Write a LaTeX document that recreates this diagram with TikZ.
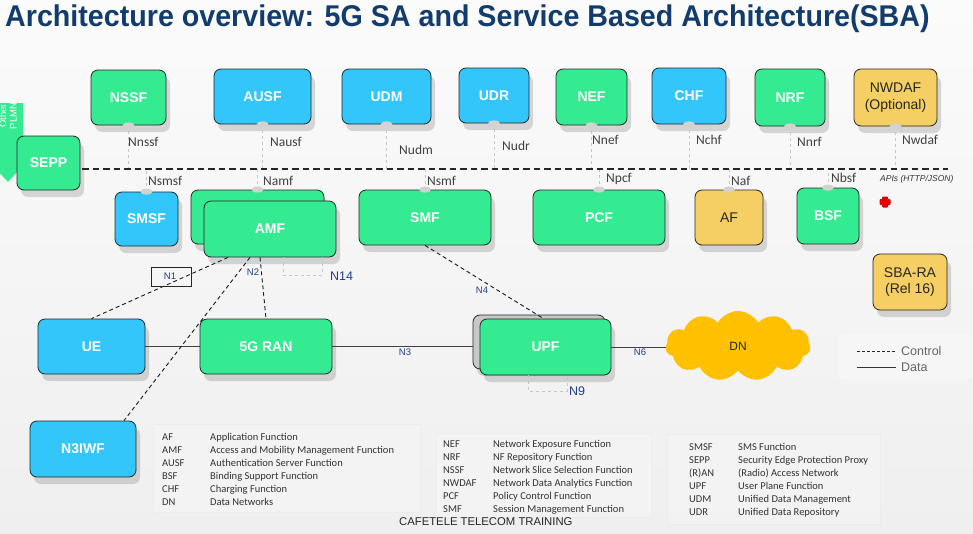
\documentclass[tikz,border=0pt]{standalone}
\usepackage{fontspec}
\setmainfont{Liberation Sans}
\newfontfamily\glossfont{Carlito}
\usetikzlibrary{shapes.symbols,shadows,calc}
\definecolor{nfgreen}{HTML}{35EB91}
\definecolor{nfblue}{HTML}{33C6FA}
\definecolor{nfyellow}{HTML}{F5CF63}
\definecolor{dnorange}{HTML}{FFC000}
\definecolor{titleblue}{HTML}{123C6E}
\definecolor{lblblue}{HTML}{1F3F8F}
\definecolor{upfgray}{HTML}{C8C8C8}
\definecolor{bgtop}{HTML}{FBFBFB}
\definecolor{bgbot}{HTML}{EFEFEF}
\begin{document}
\begin{tikzpicture}[x=1pt,y=-1pt,
  nf/.style={draw=black!85, line width=0.8pt, rounded corners=7pt, inner sep=0pt, align=center,
    drop shadow={shadow xshift=4pt, shadow yshift=-7pt, opacity=0.14, fill=black}},
  gbox/.style={nf, fill=nfgreen, text=white, font=\fontsize{14}{16}\selectfont\bfseries},
  bbox/.style={nf, fill=nfblue, text=white, font=\fontsize{14}{16}\selectfont\bfseries},
  ybox/.style={nf, fill=nfyellow, text=black!85, font=\fontsize{14}{16.5}\selectfont},
  sz/.style 2 args={minimum width=#1pt, minimum height=#2pt},
  stub/.style={fill=gray!35},
  ifline/.style={draw=gray!45, dashed, line width=0.8pt},
  iflbl/.style={font=\glossfont\fontsize{13.5}{15}\selectfont, text=black!75, anchor=west, inner sep=0pt},
  nlbl/.style={font=\fontsize{9.5}{11}\selectfont, text=lblblue, inner sep=0pt},
  nbig/.style={font=\fontsize{12.5}{14}\selectfont, text=lblblue, inner sep=0pt, anchor=west},
  ctrl/.style={draw=black!90, line width=0.9pt, dash pattern=on 4pt off 3pt},
  data/.style={draw=black!75, line width=1pt},
  glbox/.style={draw=gray!15, fill=white, fill opacity=0.2, draw opacity=1},
  gl/.style={font=\glossfont\fontsize{10.5}{13}\selectfont, text=black!80, inner sep=0pt, anchor=base west},
]
\useasboundingbox (0,0) rectangle (973,533);
\shade[top color=bgtop, bottom color=bgbot] (0,0) rectangle (973,533);

% title
\node[anchor=base west, text=titleblue, inner sep=0pt] (title) at (5,26)
  {\fontsize{30}{32}\selectfont\bfseries\scalebox{0.955}[1]{Architecture overview: 5G SA and Service Based Architecture(SBA)}};

% other PLMN arrow
\fill[nfgreen] (-12,103) -- (23,103) -- (23,158) -- (30,158) -- (8,182) -- (-14,158) -- (-12,158) -- cycle;
\node[rotate=90, text=white, align=center, inner sep=0pt, font=\fontsize{9.5}{10.5}\selectfont] (plmn) at (8,116) {Other\\PLMN};

% bus
\coordinate (busL) at (82,169);
\coordinate (busR) at (948,169);

% top row
\node[gbox, sz={75}{55}] (nssf) at (128.5,97.5) {NSSF};
\node[bbox, sz={97}{55}] (ausf) at (262.5,96.5) {AUSF};
\node[bbox, sz={89}{55}] (udm) at (386.5,96.5) {UDM};
\node[bbox, sz={70}{55}] (udr) at (494,95.5) {UDR};
\node[gbox, sz={71}{56}] (nef) at (591.5,97) {NEF};
\node[bbox, sz={74}{56}] (chf) at (689,96) {CHF};
\node[gbox, sz={70}{57}] (nrf) at (790,97.5) {NRF};
\node[ybox, sz={83}{57}] (nwdaf) at (895.5,97.5) {NWDAF\\(Optional)};

\node[gbox, sz={63}{54}] (sepp) at (48.5,163) {SEPP};

% middle row
\node[bbox, sz={63}{54}] (smsf) at (146.5,219) {SMSF};
\node[gbox, sz={133}{54}] (amfb) at (257.5,217) {};
\node[gbox, sz={132}{56}] (amf) at (270,229) {AMF};
\node[gbox, sz={132}{55}] (smf) at (425,217.5) {SMF};
\node[gbox, sz={132}{55}] (pcf) at (599,217.5) {PCF};
\node[ybox, sz={68}{55}] (af) at (729,217.5) {AF};
\node[gbox, sz={62}{56}] (bsf) at (828,216) {BSF};
\node[ybox, sz={74}{56}] (sbara) at (910,282) {SBA-RA\\(Rel 16)};

% interface lines (top)
\foreach \n in {nssf,ausf,udm,udr,nef,chf,nrf,nwdaf}{
  \draw[ifline] (\n.south) -- (\n.south |- busL);
  \fill[stub] (\n.south) ellipse (6pt and 3pt);
}
\foreach \n in {smsf,amfb,smf,pcf,af,bsf}{
  \draw[ifline] (\n.north) -- (\n.north |- busL);
  \fill[stub] (\n.north) ellipse (6pt and 3pt);
}
\draw[black!85, line width=1.3pt, dash pattern=on 6.5pt off 4pt] (busL) -- (busR);

\node[iflbl] (lnssf) at (128,142) {Nnssf};
\node[iflbl] (lausf) at (270,142) {Nausf};
\node[iflbl] (ludm) at (399,150) {Nudm};
\node[iflbl] (ludr) at (502,146) {Nudr};
\node[iflbl] (lnef) at (592,140) {Nnef};
\node[iflbl] (lchf) at (696,140) {Nchf};
\node[iflbl] (lnrf) at (797,142) {Nnrf};
\node[iflbl] (lnwdaf) at (902,140) {Nwdaf};
\node[iflbl] (lsmsf) at (148,181) {Nsmsf};
\node[iflbl] (lamf) at (263,181) {Namf};
\node[iflbl] (lsmf) at (427,181) {Nsmf};
\node[iflbl] (lpcf) at (606,179) {Npcf};
\node[iflbl] (laf) at (731,181) {Naf};
\node[iflbl] (lbsf) at (831,178) {Nbsf};

\node[anchor=west, inner sep=0pt, text=black!80, font=\fontsize{8.5}{10}\selectfont\itshape] (apis) at (880,179) {APIs (HTTP/JSON)};

% red cross
\fill[red!90!black, rounded corners=1pt] (879.5,199) rectangle (890.5,205);
\fill[red!90!black, rounded corners=1pt] (882,196.5) rectangle (888,207.5);

% bottom row
\node[bbox, sz={107}{55}] (ue) at (91.5,346.5) {UE};
\node[gbox, sz={132}{55}] (ran) at (266,346.5) {5G RAN};
\node[nf, fill=upfgray, sz={132}{54}] (upfb) at (539,342) {};
\node[gbox, sz={131}{56}] (upf) at (545.5,347) {UPF};
\node[cloud, cloud puffs=11, cloud puff arc=120, cloud ignores aspect, fill=dnorange, inner sep=0pt,
  minimum width=145pt, minimum height=70pt, text=black!85, font=\fontsize{12}{14}\selectfont] (dn) at (738,346) {DN};
\node[bbox, sz={106}{56}] (n3iwf) at (83,449) {N3IWF};

% data lines
\draw[data] (ue.east) -- (ran.west);
\draw[data] (ran.east) -- (ran.east -| upfb.west);
\draw[data] (upf.east) -- (upf.east -| dn.west);
\node[nlbl] (n3) at (405,352) {N3};
\node[nlbl] (n6) at (640,352) {N6};

% control lines
\draw[ctrl] ($(amf.south)+(-42,0)$) -- (ue.north);
\draw[ctrl] ($(amf.south)+(-20,0)$) -- ($(n3iwf.north)+(41,0)$);
\draw[ctrl] ($(amf.south)+(-10,0)$) -- (ran.north);
\draw[ctrl] (smf.south) -- ($(upf.north)+(-2,0)$);
\node[draw=black!85, line width=0.6pt, minimum width=40pt, minimum height=19pt, inner sep=0pt] (n1box) at (171,276.5) {};
\node[nlbl] (n1) at (170,276.5) {N1};
\node[nlbl] (n2) at (253,272) {N2};
\node[nlbl] (n4) at (482,290) {N4};

% N14 / N9 loops
\coordinate (n14a) at (283,257);
\coordinate (n14b) at (322,257);
\draw[ifline] (n14a) -- ++(0,18) -| (n14b);
\node[nbig] (n14) at (330,276) {N14};
\coordinate (n9a) at (528,375);
\coordinate (n9b) at (567,375);
\draw[ifline] (n9a) -- ++(0,16) -| (n9b);
\node[nbig] (n9) at (569,391) {N9};

% legend
\node[draw=gray!10, fill=white, fill opacity=0.25, rounded corners=3pt, minimum width=135pt, minimum height=47pt] (legend) at (906,356.5) {};
\coordinate (lc1) at (857,351);
\coordinate (lc2) at (896,351);
\coordinate (ld1) at (857,367);
\coordinate (ld2) at (896,367);
\draw[draw=black!85, line width=0.8pt, dash pattern=on 3pt off 2pt] (lc1) -- (lc2);
\draw[draw=black!80, line width=1pt] (ld1) -- (ld2);
\node[anchor=west, inner sep=0pt, text=black!60, font=\fontsize{12.5}{14}\selectfont] (lctrl) at (901,351) {Control};
\node[anchor=west, inner sep=0pt, text=black!60, font=\fontsize{12.5}{14}\selectfont] (ldata) at (901,367) {Data};

% glossary
\draw[glbox] (153,424) rectangle (420,512);
\draw[glbox] (436,433) rectangle (651,517);
\draw[glbox] (667,434) rectangle (880,524);
\foreach \a/\d [count=\i] in {AF/Application Function, AMF/Access and Mobility Management Function, AUSF/Authentication Server Function, BSF/Binding Support Function, CHF/Charging Function, DN/Data Networks}{
  \node[gl] (ga\i) at (162,427+13*\i) {\a};
  \node[gl] (gad\i) at (210,427+13*\i) {\d};
}
\foreach \a/\d [count=\i] in {NEF/Network Exposure Function, NRF/NF Repository Function, NSSF/Network Slice Selection Function, NWDAF/Network Data Analytics Function, PCF/Policy Control Function, SMF/Session Management Function}{
  \node[gl] (gb\i) at (443,434+13*\i) {\a};
  \node[gl] (gbd\i) at (493,434+13*\i) {\d};
}
\foreach \a/\d [count=\i] in {SMSF/SMS Function, SEPP/Security Edge Protection Proxy, (R)AN/(Radio) Access Network, UPF/User Plane Function, UDM/Unified Data Management, UDR/Unified Data Repository}{
  \node[gl] (gc\i) at (689,437+13*\i) {\a};
  \node[gl] (gcd\i) at (738,437+13*\i) {\d};
}

\node[anchor=base west, inner sep=0pt, text=black!85, font=\fontsize{11.3}{13}\selectfont] (footer) at (399,525) {CAFETELE TELECOM TRAINING};
\end{tikzpicture}
\end{document}
